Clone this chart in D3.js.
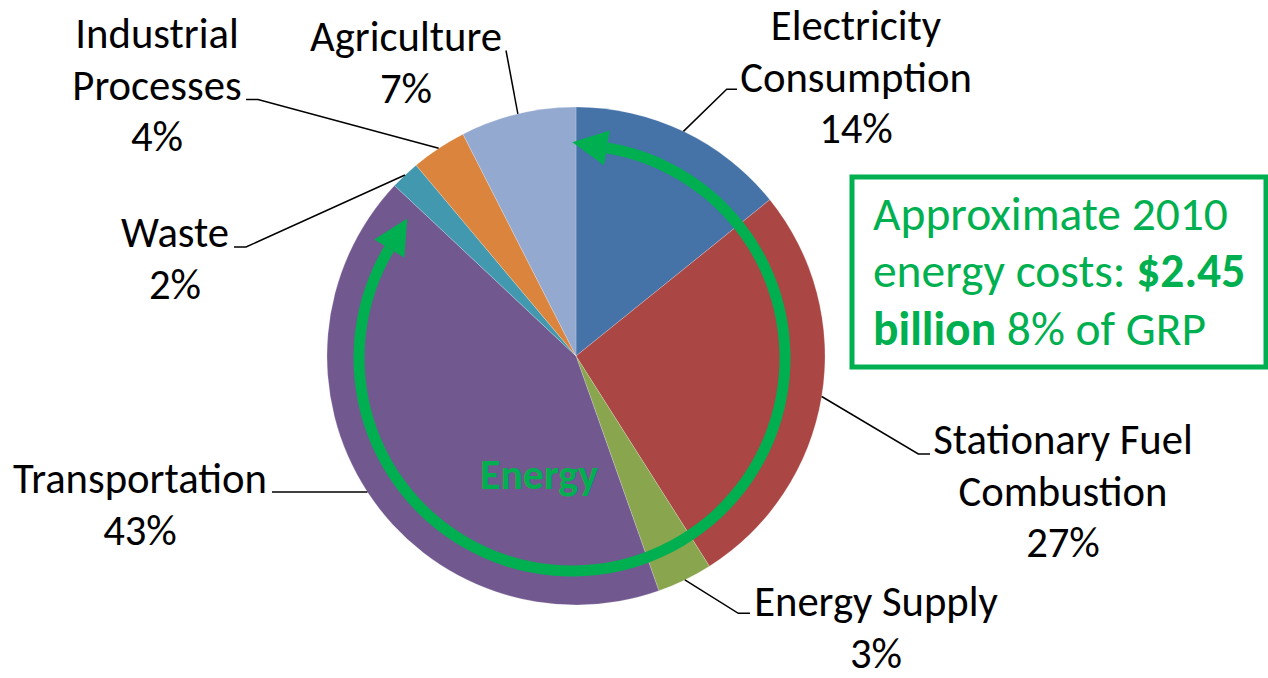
<!DOCTYPE html>
<html>
<head>
<meta charset="utf-8">
<script src="https://cdn.jsdelivr.net/npm/d3@7"></script>
<style>
  html, body { margin: 0; padding: 0; background: #fff; }
  svg { display: block; }
  text { font-family: Carlito, Lato, "Open Sans", sans-serif; }
</style>
</head>
<body>
<svg id="chart" width="1268" height="678"></svg>
<script>
// ---------------- DATA ----------------
const categories = ["Electricity Consumption", "Stationary Fuel Combustion", "Energy Supply",
                    "Transportation", "Waste", "Industrial Processes", "Agriculture"];
const values = [14.2, 26.8, 3.6, 42.4, 1.9, 3.6, 7.5];
const percentLabels = ["14%", "27%", "3%", "43%", "2%", "4%", "7%"];
const labelLines = [
  ["Electricity", "Consumption"],
  ["Stationary Fuel", "Combustion"],
  ["Energy Supply"],
  ["Transportation"],
  ["Waste"],
  ["Industrial", "Processes"],
  ["Agriculture"]
];
const colors = ["#4572A7", "#AA4643", "#89A54E", "#71588F", "#4198AF", "#DB843D", "#93A9CF"];
const energyGroup = ["Electricity Consumption", "Stationary Fuel Combustion", "Energy Supply", "Transportation"];
const calloutLines = [
  [{t: "Approximate 2010", b: false}],
  [{t: "energy costs: ", b: false}, {t: "$2.45", b: true}],
  [{t: "billion", b: true}, {t: " 8% of GRP", b: false}]
];

// ---------------- LAYOUT ----------------
const W = 1268, H = 678;
const cx = 576, cy = 356, R = 249;
const green = "#00B050";

// label layout: centre x, first baseline y, and leader elbow/end points
const labelLayout = [
  {x: 856, y: 40,  elbow: [[726.7, 89.3], [737, 89.3]]},
  {x: 1063, y: 454, elbow: [[918.3, 454], [930, 454]]},
  {x: 876, y: 616, elbow: [[738.3, 613.3], [750, 613.3]]},
  {x: 140, y: 493, elbow: [[272, 492]]},
  {x: 175, y: 247, elbow: [[246, 247], [234, 247]]},
  {x: 157, y: 48,  elbow: [[258, 99.5], [246, 99.5]]},
  {x: 406, y: 51,  elbow: [[506, 50.5]]}
];
const lineH = 51.5;

const svg = d3.select("#chart");

// measure helper for font fitting
function measure(str, size, weight) {
  const t = svg.append("text").attr("font-size", size).attr("font-weight", weight || "normal").text(str);
  const w = t.node().getComputedTextLength();
  t.remove();
  return w;
}
const labelSize = 40 * 254 / measure("Transportation", 40);
const boxSize = 46 * 355 / measure("Approximate 2010", 46);
const energySize = 36 * 118 / measure("Energy", 36, "bold");

// ---------------- PIE ----------------
const data = categories.map((c, i) => ({name: c, value: values[i], color: colors[i], pct: percentLabels[i], lines: labelLines[i], layout: labelLayout[i]}));
const pie = d3.pie().value(d => d.value).sort(null);
const arcs = pie(data);
const arcGen = d3.arc().innerRadius(0).outerRadius(R);

const g = svg.append("g").attr("transform", `translate(${cx},${cy})`);
g.selectAll("path.slice").data(arcs).join("path")
  .attr("class", "slice")
  .attr("d", arcGen)
  .attr("fill", d => d.data.color)
  .attr("stroke", "#ffffff")
  .attr("stroke-opacity", 0.35)
  .attr("stroke-width", 0.6);

// ---------------- LEADERS & LABELS ----------------
arcs.forEach(a => {
  const mid = (a.startAngle + a.endAngle) / 2;
  const p0 = [cx + R * Math.sin(mid), cy - R * Math.cos(mid)];
  const pts = [p0].concat(a.data.layout.elbow);
  svg.append("path")
    .attr("d", d3.line()(pts))
    .attr("fill", "none")
    .attr("stroke", "#000")
    .attr("stroke-width", 1.5);

  const lines = a.data.lines.concat([a.data.pct]);
  const txt = svg.append("text")
    .attr("text-anchor", "middle")
    .attr("font-size", labelSize)
    .attr("fill", "#000");
  lines.forEach((l, i) => {
    txt.append("tspan").attr("x", a.data.layout.x).attr("y", a.data.layout.y + i * lineH).text(l);
  });
});

// ---------------- ENERGY RING ----------------
const ringCx = 572, ringCy = 358, ringR = 213, ringW = 11;
const energyArcs = arcs.filter(a => energyGroup.includes(a.data.name));
const eStart = d3.min(energyArcs, a => a.startAngle);
const eEnd = d3.max(energyArcs, a => a.endAngle);
const headL = 35, headW = 35;
const a0 = eStart + headL / ringR;
const a1 = eEnd - 0.05 - headL / ringR;
const ring = svg.append("g").attr("transform", `translate(${ringCx},${ringCy})`);
ring.append("path")
  .attr("d", d3.arc().innerRadius(ringR - ringW / 2).outerRadius(ringR + ringW / 2).startAngle(a0).endAngle(a1)())
  .attr("fill", green);

function head(theta, dir) {
  const bx = ringR * Math.sin(theta), by = -ringR * Math.cos(theta);
  const tx = dir * Math.cos(theta), ty = dir * Math.sin(theta);
  const nx = Math.sin(theta), ny = -Math.cos(theta);
  const tip = [bx + headL * tx, by + headL * ty];
  const c1 = [bx + nx * headW / 2, by + ny * headW / 2];
  const c2 = [bx - nx * headW / 2, by - ny * headW / 2];
  return "M" + tip + "L" + c1 + "L" + c2 + "Z";
}
ring.append("path").attr("d", head(a0, -1)).attr("fill", green);
ring.append("path").attr("d", head(a1, 1)).attr("fill", green);

svg.append("text")
  .attr("x", 539).attr("y", 489)
  .attr("text-anchor", "middle")
  .attr("font-size", energySize)
  .attr("font-weight", "bold")
  .attr("fill", green)
  .text("Energy");

// ---------------- CALLOUT BOX ----------------
svg.append("rect")
  .attr("x", 852).attr("y", 177)
  .attr("width", 414).attr("height", 190)
  .attr("fill", "#fff")
  .attr("stroke", green)
  .attr("stroke-width", 5);
const boxBase = [230, 287, 345];
calloutLines.forEach((parts, i) => {
  const t = svg.append("text")
    .attr("x", 873).attr("y", boxBase[i])
    .attr("font-size", boxSize)
    .attr("fill", green)
    .attr("xml:space", "preserve")
    .style("white-space", "pre");
  parts.forEach(p => t.append("tspan").attr("font-weight", p.b ? "bold" : "normal").text(p.t));
});
</script>
</body>
</html>
